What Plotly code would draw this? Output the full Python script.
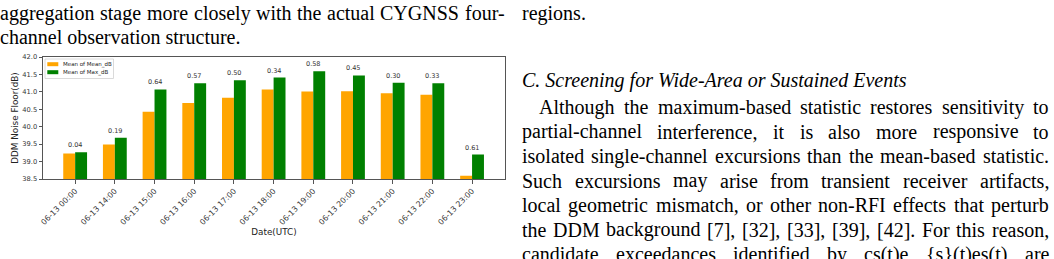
import plotly.graph_objects as go

# ---------------- data ----------------
categories = ["06-13 00:00", "06-13 14:00", "06-13 15:00", "06-13 16:00",
              "06-13 17:00", "06-13 18:00", "06-13 19:00", "06-13 20:00",
              "06-13 21:00", "06-13 22:00", "06-13 23:00"]
mean_of_mean_db = [39.23, 39.49, 40.43, 40.68, 40.83, 41.07, 41.01, 41.02, 40.96, 40.92, 38.59]
mean_of_max_db = [39.27, 39.68, 41.07, 41.25, 41.33, 41.41, 41.59, 41.47, 41.26, 41.25, 39.20]
diff_labels = ["0.04", "0.19", "0.64", "0.57", "0.50", "0.34", "0.58", "0.45", "0.30", "0.33", "0.61"]
series_names = ["Mean of Mean_dB", "Mean of Max_dB"]
series_colors = ["#FFA500", "#008000"]
y_ticks = [38.5, 39.0, 39.5, 40.0, 40.5, 41.0, 41.5, 42.0]

left_col_lines = [
    "aggregation stage more closely with the actual CYGNSS four-",
    "channel observation structure.",
]
right_top_line = "regions."
heading = "C. Screening for Wide-Area or Sustained Events"
right_para_lines = [
    "Although the maximum-based statistic restores sensitivity to",
    "partial-channel interference, it is also more responsive to",
    "isolated single-channel excursions than the mean-based statistic.",
    "Such excursions may arise from transient receiver artifacts,",
    "local geometric mismatch, or other non-RFI effects that perturb",
    "the DDM background [7], [32], [33], [39], [42]. For this reason,",
    "candidate exceedances identified by cs(t)e {s}(t)es(t) are",
]

# ---------------- layout geometry (pixels) ----------------
W, H = 1054, 259
L, R, T, B = 43, 505, 57, 179


def px(x):
    return (x - L) / (R - L)


def py(y):
    return (B - y) / (B - T)


# Times / Liberation Serif advance widths (1/1000 em)
TW = {' ': 250, '.': 250, ',': 250, '-': 333, '[': 333, ']': 333, '(': 333, ')': 333,
      '{': 480, '}': 480, ':': 278, ';': 278}
for c, w in zip("abcdefghijklmnopqrstuvwxyz",
                [444, 500, 444, 500, 444, 333, 500, 500, 278, 278, 500, 278, 778, 500, 500,
                 500, 500, 333, 389, 278, 500, 500, 722, 500, 500, 444]):
    TW[c] = w
for c, w in zip("ABCDEFGHIJKLMNOPQRSTUVWXYZ",
                [722, 667, 667, 722, 611, 556, 722, 722, 333, 389, 722, 611, 889, 722, 722,
                 556, 722, 667, 556, 611, 722, 722, 944, 722, 722, 611]):
    TW[c] = w
for c in "0123456789":
    TW[c] = 500


def text_w(s, size):
    return sum(TW.get(ch, 500) for ch in s) / 1000.0 * size


FS = 20
SERIF = "Liberation Serif, Times New Roman, serif"
annotations = []


def put_text(s, x, y, size=FS, italic=False):
    annotations.append(dict(
        text=f"<i>{s}</i>" if italic else s, x=px(x), y=py(y), xref="paper", yref="paper",
        xanchor="left", yanchor="middle", showarrow=False, borderpad=0, borderwidth=0,
        font=dict(family=SERIF, size=size, color="#000000")))


def put_justified(s, x0, x1, y, size=FS):
    words = s.split(" ")
    widths = [text_w(w, size) for w in words]
    gap = (x1 - x0 - sum(widths)) / (len(words) - 1)
    x = x0
    for w, wd in zip(words, widths):
        put_text(w, x, y, size)
        x += wd + gap


# left column
put_justified(left_col_lines[0], 0, 505, 13)
put_text(left_col_lines[1], 0, 37)

# right column
RX0, RX1 = 522, 1049
put_text(right_top_line, RX0, 13)
put_text(heading, RX0, 80, italic=True)
line_y0, line_dy = 107, 24.5
for i, ln in enumerate(right_para_lines):
    x0 = RX0 + 17 if i == 0 else RX0
    put_justified(ln, x0, RX1, line_y0 + i * line_dy)

# ---------------- chart ----------------
fig = go.Figure()
for name, vals, col in zip(series_names, [mean_of_mean_db, mean_of_max_db], series_colors):
    fig.add_trace(go.Bar(x=categories, y=vals, name=name, marker_color=col,
                         marker_line_width=0, showlegend=False))

for cat, v, lab in zip(categories, mean_of_max_db, diff_labels):
    annotations.append(dict(x=cat, y=v, xref="x", yref="y", text=lab, showarrow=False,
                            yanchor="bottom", yshift=2, borderpad=0,
                            font=dict(family="DejaVu Sans", size=6.5, color="#333333")))

# manual compact legend (matplotlib style)
shapes = [
    dict(type="rect", xref="paper", yref="paper", x0=px(45), x1=px(113.5), y0=py(59), y1=py(78.5),
         line=dict(color="#d0d0d0", width=0.8), fillcolor="rgba(255,255,255,0.8)", layer="above"),
]
for i, (name, col) in enumerate(zip(series_names, series_colors)):
    yc = 64.2 + i * 8
    shapes.append(dict(type="rect", xref="paper", yref="paper", x0=px(47.3), x1=px(58.3),
                       y0=py(yc + 2), y1=py(yc - 2), line=dict(width=0), fillcolor=col, layer="above"))
    annotations.append(dict(text=name, x=px(61.5), y=py(yc), xref="paper", yref="paper",
                            xanchor="left", yanchor="middle", showarrow=False, borderpad=0,
                            font=dict(family="DejaVu Sans", size=5.5, color="#222222")))

axis_common = dict(showline=True, linecolor="#555555", linewidth=1, mirror=True,
                   ticks="outside", ticklen=3.5, tickwidth=0.8, tickcolor="#555555",
                   showgrid=False, zeroline=False)

fig.update_layout(
    width=W, height=H,
    margin=dict(l=L, r=W - R, t=T, b=H - B, pad=0),
    paper_bgcolor="white", plot_bgcolor="white",
    barmode="group", bargap=0.4, bargroupgap=0,
    showlegend=False,
    xaxis=dict(type="category", range=[-0.81, 10.83], tickangle=-45,
               tickfont=dict(family="DejaVu Sans", size=7.8, color="#333333"),
               title=dict(text="Date(UTC)", standoff=1,
                          font=dict(family="DejaVu Sans", size=8.8, color="#222222")),
               **axis_common),
    yaxis=dict(range=[38.5, 42.0], tickvals=y_ticks, tickformat=".1f",
               tickfont=dict(family="DejaVu Sans", size=6.7, color="#333333"),
               title=dict(text="DDM Noise Floor(dB)", standoff=2,
                          font=dict(family="DejaVu Sans", size=8.8, color="#222222")),
               **axis_common),
    annotations=annotations,
    shapes=shapes,
)

fig.write_html("out.html")
